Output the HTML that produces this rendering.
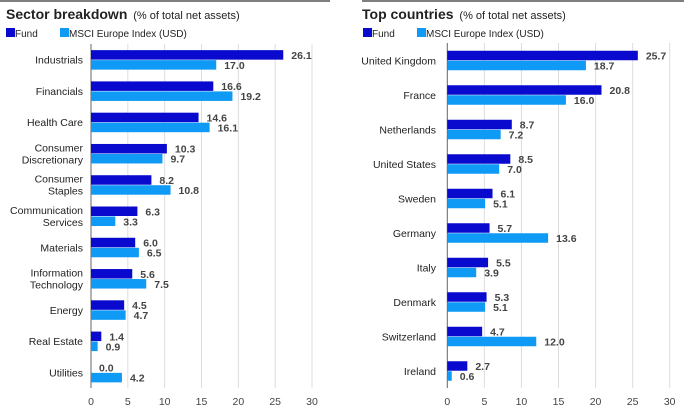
<!DOCTYPE html>
<html><head><meta charset="utf-8"><style>
body{margin:0;width:684px;height:412px;background:#fff;font-family:"Liberation Sans",sans-serif;overflow:hidden}
svg{display:block}
</style></head><body>
<svg id="s" width="684" height="412">
<line x1="0" y1="1" x2="330" y2="1" stroke="#555" stroke-width="1.5"/>
<line x1="362" y1="1" x2="684" y2="1" stroke="#555" stroke-width="1.5"/>
<text x="6" y="19" font-size="14" font-weight="bold" fill="#222">Sector breakdown <tspan font-size="11" font-weight="normal" dx="2">(% of total net assets)</tspan></text>
<text x="362" y="19" font-size="14" font-weight="bold" fill="#222">Top countries <tspan font-size="11" font-weight="normal" dx="2">(% of total net assets)</tspan></text>
<g>
<rect x="6" y="28" width="9" height="9" fill="#0a0acf"/><text x="15" y="37" font-size="10" fill="#222">Fund</text>
<rect x="60" y="28" width="9" height="9" fill="#0f9af5"/><text x="69" y="37" font-size="10" fill="#222">MSCI Europe Index (USD)</text>
</g>
<g>
<rect x="363" y="28" width="9" height="9" fill="#0a0acf"/><text x="372" y="37" font-size="10" fill="#222">Fund</text>
<rect x="417" y="28" width="9" height="9" fill="#0f9af5"/><text x="426" y="37" font-size="10" fill="#222">MSCI Europe Index (USD)</text>
</g>
</svg>
<script>
const sectorCats=[["Industrials"],["Financials"],["Health Care"],["Consumer","Discretionary"],["Consumer","Staples"],["Communication","Services"],["Materials"],["Information","Technology"],["Energy"],["Real Estate"],["Utilities"]];
const sectorFund=[26.1,16.6,14.6,10.3,8.2,6.3,6.0,5.6,4.5,1.4,0.0];
const sectorIndex=[17.0,19.2,16.1,9.7,10.8,3.3,6.5,7.5,4.7,0.9,4.2];
const countryCats=[["United Kingdom"],["France"],["Netherlands"],["United States"],["Sweden"],["Germany"],["Italy"],["Denmark"],["Switzerland"],["Ireland"]];
const countryFund=[25.7,20.8,8.7,8.5,6.1,5.7,5.5,5.3,4.7,2.7];
const countryIndex=[18.7,16.0,7.2,7.0,5.1,13.6,3.9,5.1,12.0,0.6];
const xTicks=[0,5,10,15,20,25,30];
const NS="http://www.w3.org/2000/svg",svg=document.getElementById('s');
function mk(t,a,p){const e=document.createElementNS(NS,t);for(const k in a)e.setAttribute(k,a[k]);(p||svg).appendChild(e);return e;}
function chart(name,cats,fund,idx,x0,x30,top,bot,labX){
  const g=mk('g',{});
  
  
  const xs=v=>x0+(x30-x0)*v/30;
  xTicks.forEach(t=>{
    const l=mk('line',{x1:xs(t),x2:xs(t),y1:top,y2:bot,stroke:t===0?'#666':'#ddd','stroke-width':1},g);
    
    
    const tx=mk('text',{x:xs(t),y:bot+17,'font-size':10.5,fill:'#444','text-anchor':'middle'},g);
    tx.textContent=t;
    
    
  });
  const band=(bot-top)/cats.length,bh=9.5;
  cats.forEach((c,i)=>{
    const cy=top+band*i+band/2;
    const lab=mk('text',{x:labX,'font-size':10.5,fill:'#222','text-anchor':'end'},g);
    
    
    c.forEach((ln,j)=>{const ts=mk('tspan',{x:labX,y:cy+4+(j-(c.length-1)/2)*12},lab);ts.textContent=ln;});
    [[fund[i],'#0a0acf',cy-bh,'fund-bar'],[idx[i],'#0f9af5',cy+0.5,'index-bar']].forEach(([v,col,y,nm])=>{
      const r=mk('rect',{x:x0,y:y,width:Math.max(0,xs(v)-x0),height:bh,fill:col},g);
      
      
      const t=mk('text',{x:xs(v)+8,y:y+bh/2+4,'font-size':10.5,'font-weight':'bold',fill:'#444'},g);
      t.textContent=v.toFixed(1);
      
      
    });
  });
}
chart('sector-chart',sectorCats,sectorFund,sectorIndex,91,312,44,388,83);
chart('country-chart',countryCats,countryFund,countryIndex,447.3,669.7,43,388,436);
</script>
</body></html>
